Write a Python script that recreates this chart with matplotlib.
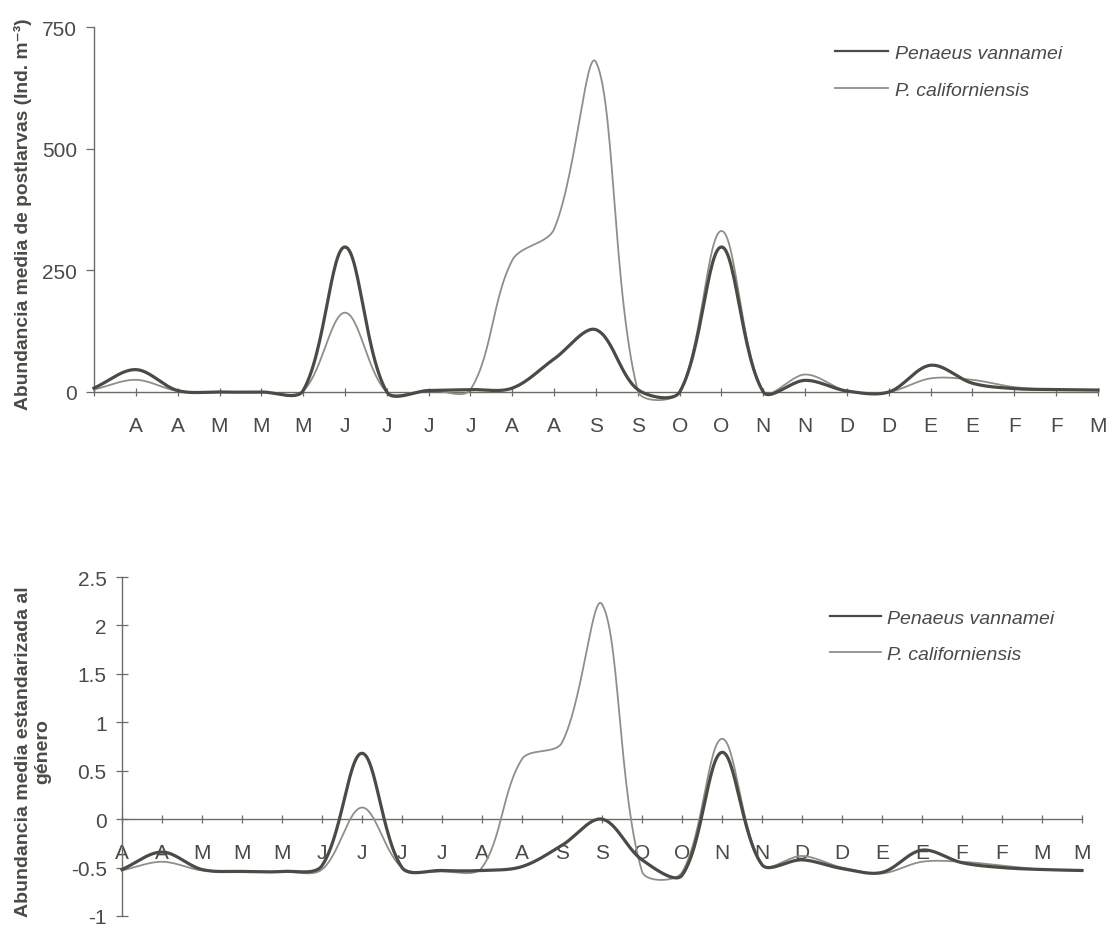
import numpy as np
import matplotlib
matplotlib.use("Agg")
import matplotlib.pyplot as plt
from matplotlib.lines import Line2D

plt.rcParams['font.family'] = ['Liberation Sans', 'DejaVu Sans']

# ---------------- data ----------------
top_labels = ["", "A", "A", "M", "M", "M", "J", "J", "J", "J", "A", "A", "S", "S",
              "O", "O", "N", "N", "D", "D", "E", "E", "F", "F", "M"]
bot_labels = ["A", "A", "M", "M", "M", "J", "J", "J", "J", "A", "A", "S", "S",
              "O", "O", "N", "N", "D", "D", "E", "E", "F", "F", "M", "M"]

vannamei_top = [8, 46, 3, 0, 0, 3, 298, 0, 3, 5, 8, 68, 128, 5, 0, 298, 0, 24, 2, 0, 55, 18, 7, 5, 4]
californiensis_top = [5, 25, 2, 0, 0, 2, 163, 0, 4, 5, 271, 335, 678, 2, 0, 331, 0, 36, 2, 0, 28, 25, 10, 5, 4]

vannamei_bot = [-0.52, -0.34, -0.52, -0.54, -0.54, -0.48, 0.68, -0.50, -0.53, -0.53, -0.49, -0.27,
                0.0, -0.42, -0.58, 0.69, -0.47, -0.42, -0.51, -0.55, -0.32, -0.45, -0.50, -0.52, -0.53]
californiensis_bot = [-0.53, -0.44, -0.53, -0.54, -0.54, -0.52, 0.12, -0.50, -0.54, -0.50, 0.62, 0.79,
                      2.22, -0.54, -0.55, 0.83, -0.47, -0.38, -0.50, -0.56, -0.44, -0.44, -0.48, -0.52, -0.53]

series_names = ["Penaeus vannamei", "P. californiensis"]

# ---------------- style ----------------
C_DARK = '#4b4b46'
C_LIGHT = '#8f8f89'
C_AXIS = '#6c6c66'
C_TEXT = '#4a4a46'
LW_DARK = 2.3
LW_LIGHT = 1.3

W, H = 1112, 929
fig = plt.figure(figsize=(W / 100, H / 100), dpi=100)
fig.patch.set_facecolor('white')


def smooth(ax, xs, ys, n=30):
    """Excel-like smoothed line (Bezier through the points, in display space)."""
    pts = ax.transData.transform(np.column_stack([xs, ys]).astype(float))
    N = len(pts)
    out = [pts[0]]
    t = np.linspace(0, 1, n)[1:, None]
    for i in range(N - 1):
        p0 = pts[i - 1] if i > 0 else pts[i]
        p1 = pts[i]
        p2 = pts[i + 1]
        p3 = pts[i + 2] if i + 2 < N else pts[i + 1]
        d01 = np.hypot(*(p1 - p0)); d12 = np.hypot(*(p2 - p1)); d23 = np.hypot(*(p3 - p2))
        f1 = d12 / (d01 + d12) / 3 if d01 + d12 > 0 else 0
        f2 = d12 / (d12 + d23) / 3 if d12 + d23 > 0 else 0
        c1 = p1 + (p2 - p0) * f1
        c2 = p2 - (p3 - p1) * f2
        seg = (1 - t) ** 3 * p1 + 3 * (1 - t) ** 2 * t * c1 + 3 * (1 - t) * t ** 2 * c2 + t ** 3 * p2
        out.extend(seg)
    out = np.array(out)
    return ax.transData.inverted().transform(out)


def rect(x0, y0, x1, y1):
    return [x0 / W, 1 - y1 / H, (x1 - x0) / W, (y1 - y0) / H]


# ---------------- top chart ----------------
ax1 = fig.add_axes(rect(94, 28, 1098, 393))
x = np.arange(len(vannamei_top))
ax1.set_xlim(0, len(x) - 1)
ax1.set_ylim(0, 750)
for s in ['top', 'right']:
    ax1.spines[s].set_visible(False)
for s in ['left', 'bottom']:
    ax1.spines[s].set_color(C_AXIS)
    ax1.spines[s].set_linewidth(1.0)
ax1.set_xticks(x)
ax1.set_xticklabels(top_labels)
ax1.set_yticks([0, 250, 500, 750])
ax1.tick_params(axis='x', direction='inout', length=6, width=0.9, color=C_AXIS,
                pad=14, labelsize=15, labelcolor=C_TEXT)
ax1.tick_params(axis='y', direction='out', length=6, width=0.9, color=C_AXIS,
                pad=6, labelsize=15, labelcolor=C_TEXT)

s = smooth(ax1, x, californiensis_top)
ax1.plot(s[:, 0], s[:, 1], color=C_LIGHT, lw=LW_LIGHT, clip_on=False, zorder=3)
s = smooth(ax1, x, vannamei_top)
ax1.plot(s[:, 0], s[:, 1], color=C_DARK, lw=LW_DARK, clip_on=False, zorder=4)

fig.text(23 / W, 1 - 214 / H, "Abundancia media de postlarvas (Ind. m\u207b\u00b3)",
         rotation=90, ha='center', va='center', fontsize=13.9, fontweight='bold', color=C_TEXT)

handles = [Line2D([], [], color=C_DARK, lw=1.6), Line2D([], [], color=C_LIGHT, lw=1.3)]
fig.legend(handles, series_names, loc='center left', bbox_to_anchor=(835 / W, 1 - 72.5 / H),
           frameon=False, borderpad=0, borderaxespad=0, handlelength=2.75, handletextpad=0.35,
           labelspacing=1.0, prop={'style': 'italic', 'size': 14}, labelcolor=C_TEXT)

# ---------------- bottom chart ----------------
ax2 = fig.add_axes(rect(122, 578, 1082, 917))
x2 = np.arange(len(vannamei_bot))
ax2.set_xlim(0, len(x2) - 1)
ax2.set_ylim(-1, 2.5)
for sp in ['top', 'right']:
    ax2.spines[sp].set_visible(False)
for sp in ['left', 'bottom']:
    ax2.spines[sp].set_color(C_AXIS)
    ax2.spines[sp].set_linewidth(1.0)
ax2.spines['bottom'].set_position(('data', 0))
ax2.set_xticks(x2)
ax2.set_xticklabels(bot_labels)
ax2.set_yticks([-1, -0.5, 0, 0.5, 1, 1.5, 2, 2.5])
ax2.set_yticklabels(['-1', '-0.5', '0', '0.5', '1', '1.5', '2', '2.5'])
ax2.tick_params(axis='x', direction='inout', length=6, width=0.9, color=C_AXIS,
                pad=14, labelsize=15, labelcolor=C_TEXT)
ax2.tick_params(axis='y', direction='inout', length=8, width=0.9, color=C_AXIS,
                pad=7, labelsize=15, labelcolor=C_TEXT)

s = smooth(ax2, x2, californiensis_bot)
ax2.plot(s[:, 0], s[:, 1], color=C_LIGHT, lw=LW_LIGHT, clip_on=False, zorder=3)
s = smooth(ax2, x2, vannamei_bot)
ax2.plot(s[:, 0], s[:, 1], color=C_DARK, lw=LW_DARK, clip_on=False, zorder=4)

fig.text(33 / W, 1 - 752 / H, "Abundancia media estandarizada al\ngénero",
         rotation=90, ha='center', va='center', multialignment='center',
         fontsize=14, fontweight='bold', color=C_TEXT, linespacing=1.15)

fig.legend(handles, series_names, loc='center left', bbox_to_anchor=(830 / W, 1 - 637 / H),
           frameon=False, borderpad=0, borderaxespad=0, handlelength=2.6, handletextpad=0.35,
           labelspacing=0.95, prop={'style': 'italic', 'size': 14}, labelcolor=C_TEXT)

fig.savefig('out.png', dpi=100, facecolor='white')
